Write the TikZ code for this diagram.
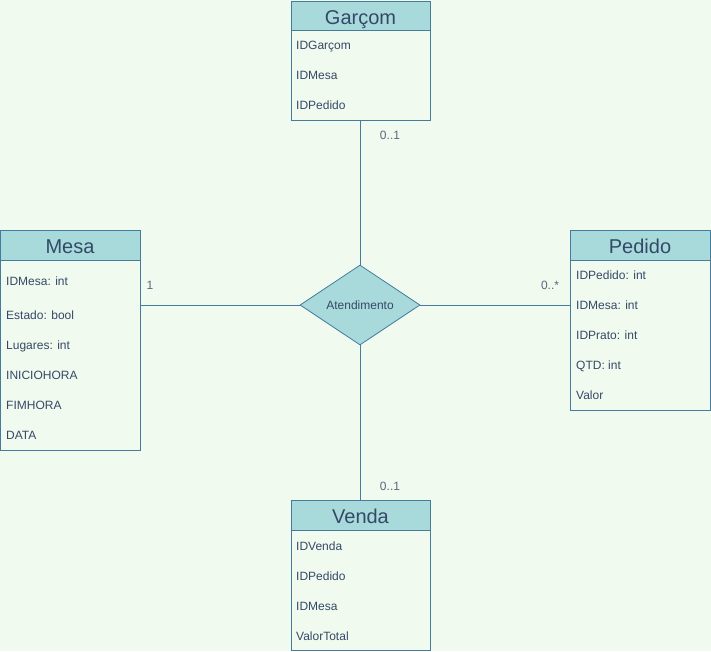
\documentclass[tikz,border=0pt]{standalone}
\usepackage{fontspec}
\setmainfont{Liberation Sans}
\usetikzlibrary{shapes.geometric}
\definecolor{bg}{HTML}{F1FAEE}
\definecolor{hdr}{HTML}{A8DADC}
\definecolor{strk}{HTML}{457B9D}
\definecolor{txt}{HTML}{1D3557}
\begin{document}
\begin{tikzpicture}[x=1pt,y=-1pt,
  box/.style={draw=strk,fill=bg,line width=0.8pt},
  head/.style={draw=strk,fill=hdr,line width=0.8pt},
  title/.style={text=txt!90,font=\fontsize{20}{22}\selectfont,anchor=center,text height=14.3pt,text depth=0pt,inner sep=0pt},
  row/.style={text=txt!90,font=\fontsize{12}{14}\selectfont,anchor=west,inner sep=0pt,text height=8.6pt,text depth=0pt},
  card/.style={text=txt!75,font=\fontsize{12}{14}\selectfont,inner sep=0pt,text height=8.6pt,text depth=0pt},
  conn/.style={draw=strk,line width=0.8pt}]
\fill[bg] (0,0) rectangle (711,651);
\useasboundingbox (0,0) rectangle (711,651);

% Garcom
\draw[box] (291,1) rectangle (430,120);
\draw[head] (291,1) rectangle (430,30);
\node[title] (gt) at (360.5,17) {Garçom};
\node[row] (g1) at (296,45.5) {IDGarçom};
\node[row] (g2) at (296,75.5) {IDMesa};
\node[row] (g3) at (296,105.5) {IDPedido};
\coordinate (gb) at (360,120);

% Mesa
\draw[box] (0.5,230) rectangle (140,450);
\draw[head] (0.5,230) rectangle (140,260);
\node[title] (mt) at (70,246.5) {Mesa};
\node[row] (m1) at (6,281) {IDMesa: int};
\node[row] (m2) at (6,315.5) {Estado: bool};
\node[row] (m3) at (6,345.5) {Lugares: int};
\node[row] (m4) at (6,375.5) {INICIOHORA};
\node[row] (m5) at (6,405.5) {FIMHORA};
\node[row] (m6) at (6,435.5) {DATA};
\coordinate (mr) at (140,305);

% Pedido
\draw[box] (570,230) rectangle (710,410);
\draw[head] (570,230) rectangle (710,260);
\node[title] (pt) at (640,246.5) {Pedido};
\node[row] (p1) at (576,275.5) {IDPedido: int};
\node[row] (p2) at (576,305.5) {IDMesa: int};
\node[row] (p3) at (576,335.5) {IDPrato: int};
\node[row] (p4) at (576,365.5) {QTD: int};
\node[row] (p5) at (576,395.5) {Valor};
\coordinate (pl) at (570,305);

% Venda
\draw[box] (291,500) rectangle (430,650);
\draw[head] (291,500) rectangle (430,530);
\node[title] (vt) at (360.5,516.5) {Venda};
\node[row] (v1) at (296,546.5) {IDVenda};
\node[row] (v2) at (296,576.5) {IDPedido};
\node[row] (v3) at (296,606.5) {IDMesa};
\node[row] (v4) at (296,636.5) {ValorTotal};
\coordinate (vt0) at (360,500);

% Diamond
\node[diamond,draw=strk,fill=hdr,line width=0.8pt,minimum width=120pt,minimum height=80pt,inner sep=0pt,aspect=1.5,text=txt!90,font=\fontsize{12}{14}\selectfont] (d) at (360,305) {Atendimento};

\draw[conn] (gb) -- (d.north);
\draw[conn] (mr) -- (d.west);
\draw[conn] (d.east) -- (pl);
\draw[conn] (d.south) -- (vt0);

\node[card] (c1) at (390,135.5) {0..1};
\node[card] (c2) at (150,285.5) {1};
\node[card] (c3) at (550,285.5) {0..*};
\node[card] (c4) at (390,486.5) {0..1};
\end{tikzpicture}
\end{document}
